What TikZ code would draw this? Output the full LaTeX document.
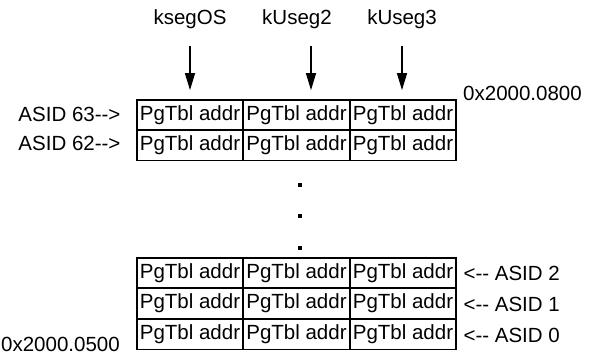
\documentclass[tikz,border=0pt]{standalone}
\usepackage{fontspec}
\setmainfont{Liberation Sans}
\usetikzlibrary{arrows.meta,positioning,calc}
\usepackage{xcolor}

\begin{document}
\begin{tikzpicture}[x=1pt, y=-1pt,
    every node/.style={font=\fontsize{20.5}{24}\selectfont},
    cell/.style={draw, line width=1.7pt, minimum width=106.5pt, minimum height=30pt, inner sep=0pt},
    segarrow/.style={-{Triangle[length=17pt,width=10pt]}, line width=1.3pt},
    vdot/.style={fill, minimum size=3.5pt, inner sep=0pt}]
    \useasboundingbox (0,0) rectangle (589,355);

    % Segment labels
    \node (os) at (190,19) {ksegOS};
    \node (u2) at (297,19) {kUseg2};
    \node (u3) at (402,19) {kUseg3};

    % Top rows
    \node[cell] (r63a) at (190,115) {PgTbl addr};
    \node[cell] (r63b) at (296.5,115) {PgTbl addr};
    \node[cell] (r63c) at (403,115) {PgTbl addr};
    \node[cell] (r62a) at (190,145.5) {PgTbl addr};
    \node[cell] (r62b) at (296.5,145.5) {PgTbl addr};
    \node[cell] (r62c) at (403,145.5) {PgTbl addr};

    % Dots
    \node[vdot] (d1) at (300,185) {};
    \node[vdot] (d2) at (300,216) {};
    \node[vdot] (d3) at (300,248) {};

    % Bottom rows
    \node[cell] (r2a) at (190,273) {PgTbl addr};
    \node[cell] (r2b) at (296.5,273) {PgTbl addr};
    \node[cell] (r2c) at (403,273) {PgTbl addr};
    \node[cell] (r1a) at (190,303.5) {PgTbl addr};
    \node[cell] (r1b) at (296.5,303.5) {PgTbl addr};
    \node[cell] (r1c) at (403,303.5) {PgTbl addr};
    \node[cell] (r0a) at (190,334.5) {PgTbl addr};
    \node[cell] (r0b) at (296.5,334.5) {PgTbl addr};
    \node[cell] (r0c) at (403,334.5) {PgTbl addr};

    % Arrows
    \draw[segarrow] ([yshift=-14pt]os.south) -- ([yshift=9pt]r63a.north);
    \draw[segarrow] ([xshift=14pt,yshift=-14pt]u2.south) -- ([xshift=14.5pt,yshift=9pt]r63b.north);
    \draw[segarrow] ([yshift=-14pt]u3.south) -- ([xshift=-1pt,yshift=9pt]r63c.north);

    % Labels
    \node[anchor=east] (a63) at (124,114) {ASID 63-{}->};
    \node[anchor=east] (a62) at (124,143) {ASID 62-{}->};
    \node[anchor=west] (a2) at (460,273) {<-{}- ASID 2};
    \node[anchor=west] (a1) at (460,304) {<-{}- ASID 1};
    \node[anchor=west] (a0) at (460,335) {<-{}- ASID 0};
    \node[anchor=base west, inner sep=0pt] (hi) at (463,101) {0x2000.0800};
    \node[anchor=base west, inner sep=0pt] (lo) at (1,352) {0x2000.0500};
\end{tikzpicture}
\end{document}
